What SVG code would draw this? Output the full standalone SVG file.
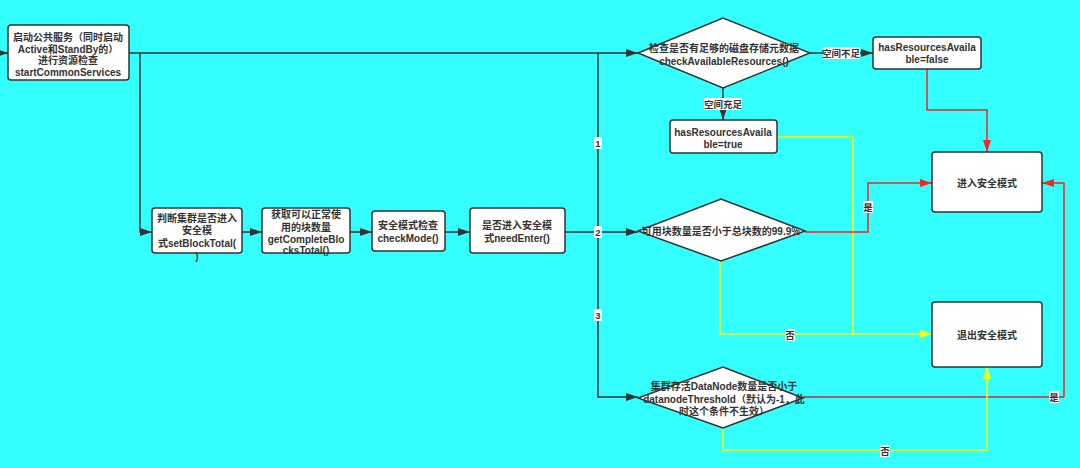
<svg xmlns="http://www.w3.org/2000/svg" width="1080" height="468" viewBox="0 0 1080 468">
<defs>
<style>
.bg{fill:#33ffff}
.box{fill:#fff;stroke:#333;stroke-width:1.5}
.t{font-family:"Liberation Sans","Noto Sans CJK SC",sans-serif;font-size:10px;font-weight:bold;fill:#333;text-anchor:middle}
.lb{font-family:"Liberation Sans","Noto Sans CJK SC",sans-serif;font-size:9.5px;font-weight:bold;fill:#333;text-anchor:middle}
.lbg{fill:#fff}
.k{fill:none;stroke:#333;stroke-width:1.5}
.r{fill:none;stroke:#ff2020;stroke-width:1.5}
.dr{fill:none;stroke:#c0303a;stroke-width:1.5}
.y{fill:none;stroke:#ffff00;stroke-width:1.5}
</style>
<marker id="ak" viewBox="0 0 12 8" refX="12" refY="4" markerWidth="12" markerHeight="8" markerUnits="userSpaceOnUse" orient="auto"><path d="M0,0 L12,4 L0,8 Z" fill="#333"/></marker>
<marker id="ar" viewBox="0 0 12 8" refX="12" refY="4" markerWidth="12" markerHeight="8" markerUnits="userSpaceOnUse" orient="auto"><path d="M0,0 L12,4 L0,8 Z" fill="#ff2020"/></marker>
<marker id="ay" viewBox="0 0 12 8" refX="12" refY="4" markerWidth="12" markerHeight="8" markerUnits="userSpaceOnUse" orient="auto"><path d="M0,0 L12,4 L0,8 Z" fill="#ffff00"/></marker>
</defs>
<rect class="bg" x="0" y="0" width="1080" height="468"/>

<g id="connectors">
<path class="k" d="M-20,53 L8,53" marker-end="url(#ak)"/>
<path class="k" d="M129,53 L638,53" marker-end="url(#ak)"/>
<path class="k" d="M140,53 L140,232 L152,232" marker-end="url(#ak)"/>
<path class="k" d="M242,232 L262,232" marker-end="url(#ak)"/>
<path class="k" d="M350,232 L372,232" marker-end="url(#ak)"/>
<path class="k" d="M445,232 L470,232" marker-end="url(#ak)"/>
<path class="k" d="M565,232 L638,232" marker-end="url(#ak)"/>
<path class="k" d="M598,53 L598,397 L638,397" marker-end="url(#ak)"/>
<path class="k" d="M810,53 L873,53" marker-end="url(#ak)"/>
<path class="k" d="M723,88 L723,120" marker-end="url(#ak)"/>
<path class="r" d="M927,69 L927,110 L987,110 L987,152" marker-end="url(#ar)"/>
<path class="y" d="M777,137 L853,137 L853,334"/>
<path class="r" d="M805,232 L868,232 L868,183 L932,183" marker-end="url(#ar)"/>
<path class="y" d="M720,261 L720,334 L932,334" marker-end="url(#ay)"/>
<path class="dr" d="M803,397 L1064,397"/>
<path class="r" d="M1064,397 L1064,183 L1042,183" marker-end="url(#ar)"/>
<path class="y" d="M723,428 L723,450 L987,450 L987,367" marker-end="url(#ay)"/>

<rect class="lbg" x="594" y="137" width="8" height="12"/><text class="lb" x="598" y="147">1</text>
<rect class="lbg" x="594" y="226" width="8" height="12"/><text class="lb" x="598" y="236">2</text>
<rect class="lbg" x="594" y="309" width="8" height="12"/><text class="lb" x="598" y="319">3</text>
<rect class="lbg" x="823" y="47" width="37" height="12"/><text class="lb" x="841" y="57">空间不足</text>
<rect class="lbg" x="704" y="98" width="38" height="12"/><text class="lb" x="723" y="108">空间充足</text>
<rect class="lbg" x="863" y="201" width="10" height="12"/><text class="lb" x="868" y="211">是</text>
<rect class="lbg" x="785" y="329" width="10" height="12"/><text class="lb" x="790" y="339">否</text>
<rect class="lbg" x="1049" y="391" width="10" height="12"/><text class="lb" x="1054" y="401">是</text>
<rect class="lbg" x="880" y="445" width="10" height="12"/><text class="lb" x="885" y="455">否</text>
</g>

<g id="start">
<rect class="box" x="8" y="25" width="121" height="55" rx="3"/>
<text class="t" x="68" y="41">启动公共服务（同时启动</text>
<text class="t" x="68" y="53">Active和StandBy的）</text>
<text class="t" x="68" y="64">进行资源检查</text>
<text class="t" x="68" y="76">startCommonServices</text>
</g>

<g id="setBlockTotal">
<rect class="box" x="152" y="208" width="90" height="45" rx="3"/>
<text class="t" x="197" y="222">判断集群是否进入</text>
<text class="t" x="197" y="234">安全模</text>
<text class="t" x="197" y="247">式setBlockTotal(</text>
<text class="t" x="197" y="260">)</text>
</g>

<g id="getCompleteBlocksTotal">
<rect class="box" x="262" y="208" width="88" height="45" rx="3"/>
<text class="t" x="306" y="218">获取可以正常使</text>
<text class="t" x="306" y="231">用的块数量</text>
<text class="t" x="306" y="243">getCompleteBlo</text>
<text class="t" x="306" y="254">cksTotal()</text>
</g>

<g id="checkMode">
<rect class="box" x="372" y="211" width="73" height="40" rx="3"/>
<text class="t" x="408" y="229">安全模式检查</text>
<text class="t" x="408" y="242">checkMode()</text>
</g>

<g id="needEnter">
<rect class="box" x="470" y="208" width="95" height="45" rx="3"/>
<text class="t" x="517" y="229">是否进入安全模</text>
<text class="t" x="517" y="242">式needEnter()</text>
</g>

<g id="checkResources">
<polygon class="box" points="638,53 723,18 810,53 723,88"/>
<text class="t" x="724" y="52">检查是否有足够的磁盘存储元数据</text>
<text class="t" x="724" y="65">checkAvailableResources()</text>
</g>

<g id="resFalse">
<rect class="box" x="873" y="37" width="108" height="32" rx="3"/>
<text class="t" x="927" y="51">hasResourcesAvaila</text>
<text class="t" x="927" y="63">ble=false</text>
</g>

<g id="resTrue">
<rect class="box" x="670" y="120" width="107" height="33" rx="3"/>
<text class="t" x="723" y="136">hasResourcesAvaila</text>
<text class="t" x="723" y="148">ble=true</text>
</g>

<g id="blocksCheck">
<polygon class="box" points="638,231 721,199 805,231 721,261"/>
<text class="t" x="721" y="235">可用块数量是否小于总块数的99.9%</text>
</g>

<g id="datanodeCheck">
<polygon class="box" points="638,398 723,367 803,398 723,428"/>
<text class="t" x="724" y="390">集群存活DataNode数量是否小于</text>
<text class="t" x="724" y="403">datanodeThreshold（默认为-1，此</text>
<text class="t" x="724" y="415">时这个条件不生效）</text>
</g>

<g id="enterSafe">
<rect class="box" x="932" y="152" width="110" height="60" rx="3"/>
<text class="t" x="987" y="187">进入安全模式</text>
</g>

<g id="exitSafe">
<rect class="box" x="932" y="302" width="110" height="65" rx="3"/>
<text class="t" x="987" y="339">退出安全模式</text>
</g>
</svg>
